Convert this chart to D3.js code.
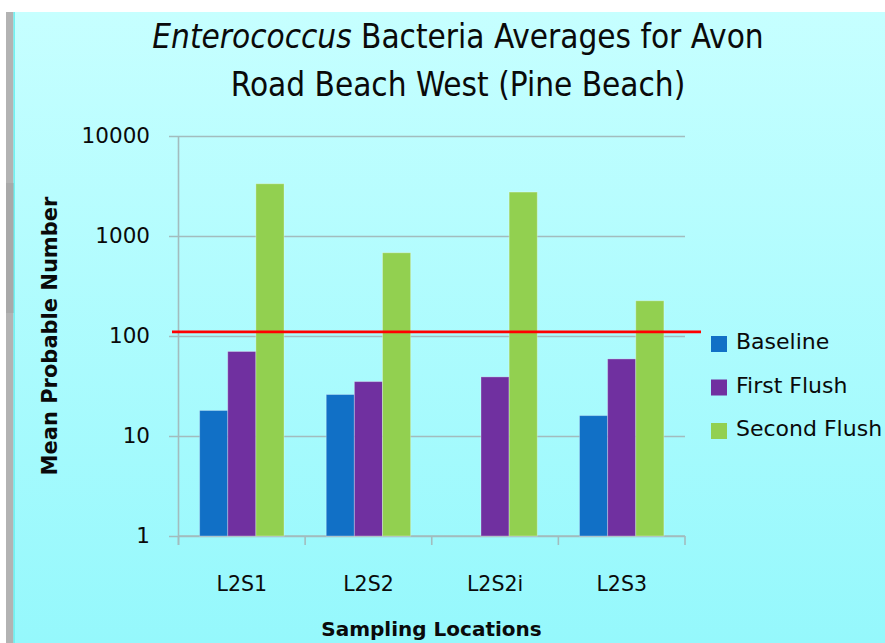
<!DOCTYPE html>
<html>
<head>
<meta charset="utf-8">
<script src="https://cdn.jsdelivr.net/npm/d3@7"></script>
<style>
  html, body { margin: 0; padding: 0; background: #ffffff; }
  svg { display: block; }
</style>
</head>
<body>
<svg id="chart" width="885" height="643"></svg>
<script>
// ---- data ----
const categories = ["L2S1", "L2S2", "L2S2i", "L2S3"];
const seriesNames = ["Baseline", "First Flush", "Second Flush"];
const baselineValues = [18, 26, null, 16];
const firstFlushValues = [70, 35, 39, 59];
const secondFlushValues = [3330, 680, 2750, 225];
const thresholdValue = 110;
const yTickValues = [1, 10, 100, 1000, 10000];
const yTickLabels = ["1", "10", "100", "1000", "10000"];
const seriesColors = ["#1170c6", "#7030a0", "#92d050"];

const seriesValues = [baselineValues, firstFlushValues, secondFlushValues];

// ---- layout ----
const svg = d3.select("#chart");
const W = 885, H = 643;
const plot = { left: 178.5, right: 685, top: 136, bottom: 536 };

// background
const defs = svg.append("defs");
const grad = defs.append("linearGradient").attr("id", "bg").attr("x1", 0).attr("y1", 0).attr("x2", 0).attr("y2", 1);
grad.append("stop").attr("offset", "0%").attr("stop-color", "#c6ffff");
grad.append("stop").attr("offset", "100%").attr("stop-color", "#95f8fc");

svg.append("rect").attr("x", 0).attr("y", 0).attr("width", W).attr("height", H).attr("fill", "#ffffff");
svg.append("rect").attr("x", 13).attr("y", 12).attr("width", W - 13).attr("height", H - 12).attr("fill", "url(#bg)");
svg.append("rect").attr("x", 6).attr("y", 12).attr("width", 7.5).attr("height", H - 12).attr("fill", "#b3b3b3");
svg.append("rect").attr("x", 6).attr("y", 183).attr("width", 8).attr("height", 130).attr("fill", "#a9a9a9");
svg.append("rect").attr("x", 13.5).attr("y", 12).attr("width", 1.5).attr("height", H - 12).attr("fill", "#6ff2f2");

// ---- scales ----
const x0 = d3.scaleBand().domain(categories).range([plot.left, plot.right])
  .paddingInner(1 / 3).paddingOuter(1 / 6);
const x1 = d3.scaleBand().domain(seriesNames).range([0, x0.bandwidth()]);
const y = d3.scaleLog().domain([1, 10000]).range([plot.bottom, plot.top]);
const color = d3.scaleOrdinal().domain(seriesNames).range(seriesColors);

const gridColor = "#a2bcbe";

// ---- y axis with gridlines ----
const yAxis = d3.axisLeft(y).tickValues(yTickValues)
  .tickFormat((d, i) => yTickLabels[i])
  .tickSize(-(plot.right - 169)).tickPadding(19);
const gy = svg.append("g").attr("transform", "translate(169,0)").call(yAxis);
gy.select(".domain").remove();
gy.selectAll(".tick line").attr("stroke", gridColor).attr("stroke-width", 1.6);
gy.selectAll(".tick text")
  .attr("font-family", "'DejaVu Sans', sans-serif").attr("font-size", 21.5).attr("fill", "#0a0a0a");

// y axis line
svg.append("line").attr("x1", plot.left).attr("x2", plot.left)
  .attr("y1", plot.top).attr("y2", plot.bottom + 9)
  .attr("stroke", gridColor).attr("stroke-width", 1.6);

// x axis line + boundary ticks
svg.append("line").attr("x1", plot.left).attr("x2", plot.right)
  .attr("y1", plot.bottom).attr("y2", plot.bottom)
  .attr("stroke", gridColor).attr("stroke-width", 1.6);
const boundaries = categories.map((c, i) => plot.left + i * x0.step()).concat([plot.right]);
svg.append("g").selectAll("line").data(boundaries).join("line")
  .attr("x1", d => d).attr("x2", d => d)
  .attr("y1", plot.bottom).attr("y2", plot.bottom + 9)
  .attr("stroke", gridColor).attr("stroke-width", 1.6);

// x labels
const xAxis = d3.axisBottom(x0).tickSize(0).tickPadding(40);
const gx = svg.append("g").attr("transform", `translate(0,${plot.bottom})`).call(xAxis);
gx.select(".domain").remove();
gx.selectAll(".tick text")
  .attr("font-family", "'DejaVu Sans', sans-serif").attr("font-size", 20.5).attr("fill", "#0a0a0a");

// ---- bars ----
const barData = [];
categories.forEach((c, ci) => {
  seriesNames.forEach((s, si) => {
    const v = seriesValues[si][ci];
    if (v != null) barData.push({ cat: c, series: s, value: v });
  });
});
svg.append("g").selectAll("rect").data(barData).join("rect")
  .attr("x", d => x0(d.cat) + x1(d.series))
  .attr("y", d => y(d.value))
  .attr("width", x1.bandwidth())
  .attr("height", d => y(1) - y(d.value))
  .attr("fill", d => color(d.series))
  .attr("stroke", "rgba(255,255,255,0.3)").attr("stroke-width", 1);

// ---- threshold line ----
svg.append("line").attr("x1", 172).attr("x2", 701)
  .attr("y1", y(thresholdValue)).attr("y2", y(thresholdValue))
  .attr("stroke", "#ff0000").attr("stroke-width", 2.6);

// ---- title ----
const title = svg.append("g").attr("font-family", "'DejaVu Sans Condensed', 'DejaVu Sans', sans-serif")
  .attr("font-size", 33).attr("fill", "#0a0a0a").attr("text-anchor", "middle");
const t1 = title.append("text").attr("x", 458).attr("y", 48);
t1.append("tspan").attr("font-style", "italic").text("Enterococcus");
t1.append("tspan").text(" Bacteria Averages for Avon");
title.append("text").attr("x", 458).attr("y", 96).text("Road Beach West (Pine Beach)");

// ---- axis titles ----
svg.append("text").attr("transform", "translate(57,336) rotate(-90)")
  .attr("text-anchor", "middle").attr("font-family", "'DejaVu Sans', sans-serif")
  .attr("font-weight", "bold").attr("font-size", 21).attr("fill", "#0a0a0a")
  .text("Mean Probable Number");
svg.append("text").attr("x", 431.5).attr("y", 636)
  .attr("text-anchor", "middle").attr("font-family", "'DejaVu Sans', sans-serif")
  .attr("font-weight", "bold").attr("font-size", 20).attr("fill", "#0a0a0a")
  .text("Sampling Locations");

// ---- legend ----
const legend = svg.append("g").attr("transform", "translate(711,336)");
const items = legend.selectAll("g").data(seriesNames).join("g")
  .attr("transform", (d, i) => `translate(0,${i * 43.5})`);
items.append("rect").attr("width", 16).attr("height", 16).attr("fill", d => color(d));
items.append("text").attr("x", 25).attr("y", 13)
  .attr("font-family", "'DejaVu Sans', sans-serif").attr("font-size", 22).attr("fill", "#0a0a0a")
  .text(d => d);
</script>
</body>
</html>
